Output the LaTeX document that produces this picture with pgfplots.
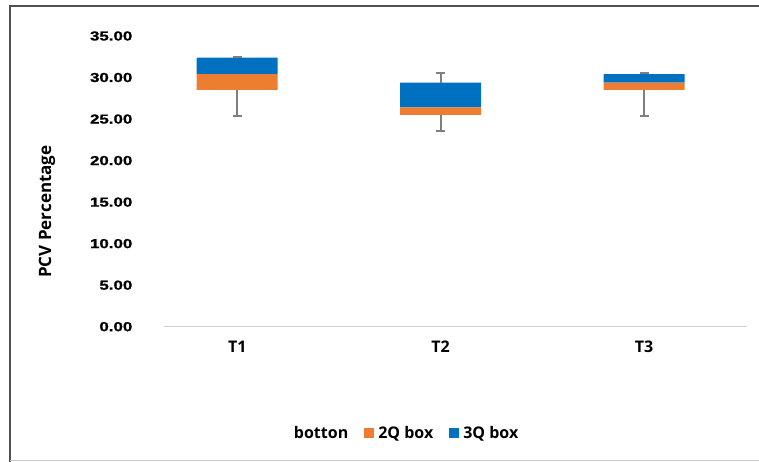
\documentclass[border=0pt]{standalone}
\usepackage{pgfplots}
\pgfplotsset{compat=1.18}
\usepackage{fontspec}
\setmainfont{Open Sans}
\newfontfamily\tickfont[FakeStretch=1.3, FakeBold=1.2]{Liberation Sans}
\definecolor{qorange}{HTML}{ED7D31}
\definecolor{qblue}{HTML}{0070C0}
\definecolor{whisk}{HTML}{7F7F7F}
\definecolor{framec}{HTML}{505050}

\begin{document}
\begin{tikzpicture}[x=1pt,y=1pt]
\useasboundingbox (0,0) rectangle (759,462);
\fill[white] (0,0) rectangle (759,462);
\draw[framec, line width=2pt] (765,456) -- (10,456) -- (10,0);
\draw[black!20, line width=1pt] (10,1) -- (765,1);

\pgfplotsset{base/.style={at={(164pt,135.3pt)}, anchor=south west, scale only axis,
  width=583pt, height=290.7pt, xmin=0.64, xmax=3.506, ymin=0, ymax=35}}

\begin{axis}[base, ybar stacked, bar width=81pt,
  axis x line=bottom, axis y line=left,
  x axis line style={black!18, line width=1pt, -},
  y axis line style={draw=none},
  xtick={1,2,3}, xticklabels={T1,T2,T3}, xtick style={draw=none},
  xticklabel style={font=\fontsize{16}{19}\selectfont\bfseries, yshift=-9pt},
  ytick={0,5,...,35}, ytick style={draw=none},
  /pgf/number format/assume math mode=true,
  yticklabel={\pgfmathprintnumber[fixed, fixed zerofill, precision=2]{\tick}},
  yticklabel style={font=\fontsize{13}{15}\selectfont\tickfont\bfseries, xshift=-26pt},
  ylabel={PCV Percentage},
  ylabel style={at={(axis description cs:-0.2007,0.396)}, anchor=center, rotate=0,
    font=\fontsize{17}{20}\selectfont\bfseries},
  legend style={at={(0.405,-0.366)}, anchor=center, draw=none, fill=none,
    legend columns=3, font=\fontsize{16}{19}\selectfont\bfseries,
    /tikz/every odd column/.append style={column sep=2pt},
    /tikz/every even column/.append style={column sep=14pt}},
  legend image code/.code={\fill (0pt,-5pt) rectangle (10pt,5pt);},
  ]
\addplot[draw=none, fill=none, legend image code/.code={\path (0pt,-5pt) rectangle (10pt,5pt);}]
  coordinates {(1,28.5) (2,25.5) (3,28.5)};
\addlegendentry{botton}
\addplot[draw=none, fill=qorange] coordinates {(1,1.9) (2,0.9) (3,0.9)};
\addlegendentry{2Q box}
\addplot[draw=none, fill=qblue] coordinates {(1,2.0) (2,3.0) (3,1.0)};
\addlegendentry{3Q box}
\end{axis}

\begin{axis}[base, hide axis, clip=false]
\addplot[forget plot, draw=none, no markers,
  error bars/.cd, y dir=minus, y explicit,
  error bar style={draw=whisk, line width=1.8pt},
  error mark options={rotate=90, mark size=4.5pt, draw=whisk, line width=1.8pt}]
  coordinates {(1,28.5) -= (0,3.1) (2,25.5) -= (0,1.9) (3,28.5) -= (0,3.1)};
\addplot[forget plot, draw=none, no markers,
  error bars/.cd, y dir=plus, y explicit,
  error bar style={draw=whisk, line width=1.8pt},
  error mark options={rotate=90, mark size=4.5pt, draw=whisk, line width=1.8pt}]
  coordinates {(1,32.4) += (0,0.1) (2,29.4) += (0,1.1) (3,30.4) += (0,0.1)};
\end{axis}
\end{tikzpicture}
\end{document}
